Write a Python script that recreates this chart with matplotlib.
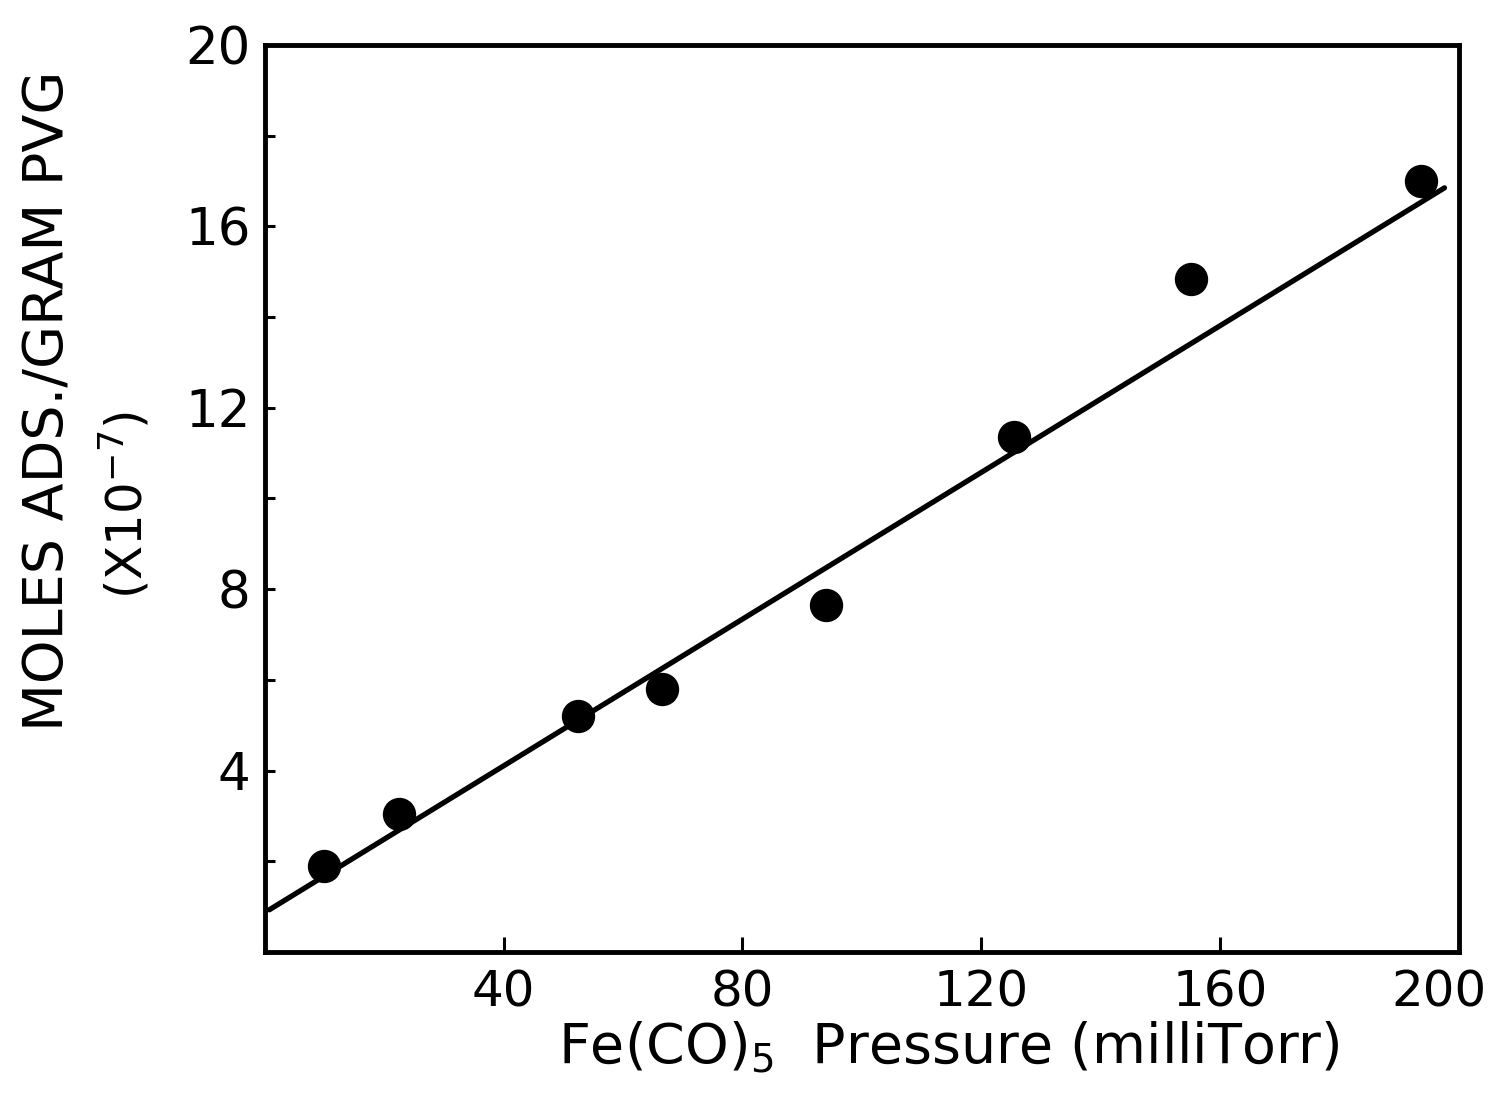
import matplotlib.pyplot as plt
import matplotlib.transforms as mtransforms
import numpy as np

# measured points, Fe(CO)5 pressure (milliTorr) vs moles adsorbed / gram PVG (x1e-7)
pressure = [10, 22.5, 52.5, 66.5, 94, 125.5, 155, 193.5]
moles_ads = [1.9, 3.05, 5.2, 5.8, 7.65, 11.35, 14.85, 17.0]

# straight fit line as drawn in the figure (end points)
fit_x = [0.8, 197.5]
fit_y = [0.93, 16.85]

x_ticks = [40, 80, 120, 160, 200]
y_ticks = [4, 8, 12, 16, 20]
y_minor = [2, 6, 10, 14, 18]

plt.rcParams['font.family'] = ['DejaVu Sans']

fig = plt.figure(figsize=(15.03, 10.98), dpi=100)
ax = fig.add_axes([0.176, 0.133, 0.795, 0.826])

ax.plot(fit_x, fit_y, color="black", lw=3.8, solid_capstyle="round")
ax.plot(pressure, moles_ads, "o", color="black", ms=23)

ax.set_xlim(0, 200)
ax.set_ylim(0, 20)
ax.set_xticks(x_ticks)
ax.set_yticks(y_ticks)
ax.set_yticks(y_minor, minor=True)

for s in ax.spines.values():
    s.set_linewidth(3.5)

ax.tick_params(axis="x", which="major", direction="in", length=11, width=2.2,
               labelsize=36, pad=12)
ax.tick_params(axis="y", which="major", direction="in", length=7, width=2.2,
               labelsize=37, pad=10)
ax.tick_params(axis="y", which="minor", direction="in", length=7, width=2.2)

# last x label sits a bit left of its tick in the original
last = ax.get_xticklabels()[-1]
last.set_transform(last.get_transform() +
                   mtransforms.ScaledTranslation(-0.2, 0, fig.dpi_scale_trans))

ax.set_xlabel("Fe(CO)$_5$  Pressure (milliTorr)", fontsize=40, labelpad=0)
ax.xaxis.set_label_coords(0.573, -0.075)
fig.text(0.032, 0.635, "MOLES ADS./GRAM PVG", rotation=90, fontsize=40,
         ha="center", va="center")
fig.text(0.083, 0.54, "(X10$^{-7}$)", rotation=90, fontsize=36,
         ha="center", va="center")

fig.savefig("out.png", dpi=100)
